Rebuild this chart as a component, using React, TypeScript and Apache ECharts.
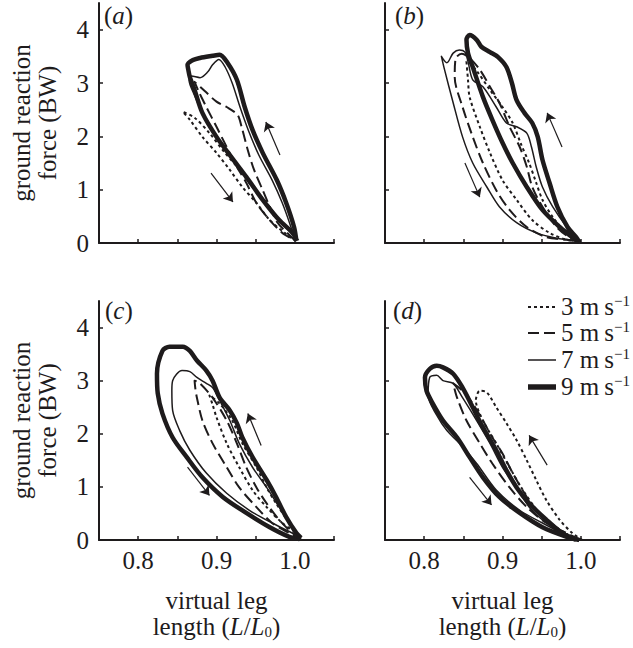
import React, { useEffect, useRef } from 'react';
import * as echarts from 'echarts';

type Pt = [number, number];

const panelLabels = ['a', 'b', 'c', 'd'];
const speeds = ['9', '7', '5', '3'];
const legendSpeeds = ['3', '5', '7', '9'];
const xTickValues = [0.8, 0.9, 1.0];
const xTickLabels = ['0.8', '0.9', '1.0'];
const xMinorTicks = [0.8, 0.85, 0.9, 0.95, 1.0, 1.05];
const yTickValues = [0, 1, 2, 3, 4];
const yTickLabels = ['0', '1', '2', '3', '4'];

// panel (a)
const loopA9: Pt[] = [[1.002,0.04],[0.999,0.30],[0.989,0.75],[0.977,1.18],[0.959,1.69],[0.946,2.12],[0.936,2.55],[0.926,3.06],[0.914,3.38],[0.904,3.53],[0.895,3.51],[0.879,3.47],[0.870,3.43],[0.863,3.34],[0.864,3.25],[0.866,3.11],[0.872,2.87],[0.882,2.44],[0.900,1.99],[0.919,1.61],[0.938,1.24],[0.959,0.81],[0.980,0.43],[0.997,0.19],[1.003,0.04]];
const loopA7: Pt[] = [[1.0,0.05],[0.995,0.30],[0.984,0.75],[0.971,1.18],[0.954,1.65],[0.941,2.10],[0.930,2.55],[0.920,3.00],[0.911,3.30],[0.903,3.44],[0.895,3.34],[0.889,3.21],[0.879,3.10],[0.868,3.13],[0.865,3.05],[0.871,2.80],[0.884,2.38],[0.903,1.95],[0.922,1.57],[0.941,1.19],[0.961,0.78],[0.982,0.40],[0.998,0.14],[1.001,0.05]];
const loopA5: Pt[] = [[1.0,0.05],[0.993,0.15],[0.978,0.38],[0.968,0.68],[0.959,0.99],[0.948,1.37],[0.940,1.74],[0.932,2.18],[0.927,2.40],[0.913,2.55],[0.900,2.65],[0.885,2.85],[0.872,3.02],[0.877,2.85],[0.887,2.55],[0.900,2.18],[0.913,1.80],[0.926,1.43],[0.938,1.13],[0.951,0.75],[0.968,0.43],[0.984,0.19],[1.0,0.05]];
const loopA3: Pt[] = [[1.0,0.05],[0.996,0.19],[0.980,0.43],[0.964,0.75],[0.946,1.05],[0.926,1.43],[0.908,1.74],[0.891,2.06],[0.872,2.35],[0.857,2.46],[0.866,2.31],[0.882,1.99],[0.900,1.69],[0.917,1.37],[0.933,1.05],[0.951,0.75],[0.968,0.43],[0.987,0.19],[1.0,0.05]];

// panel (b)
const loopB9: Pt[] = [[0.998,0.02],[0.994,0.11],[0.983,0.30],[0.970,0.68],[0.960,1.13],[0.951,1.56],[0.945,1.99],[0.938,2.25],[0.928,2.44],[0.918,2.68],[0.912,3.00],[0.905,3.30],[0.894,3.49],[0.884,3.58],[0.873,3.68],[0.867,3.81],[0.858,3.90],[0.854,3.81],[0.856,3.56],[0.862,3.30],[0.875,2.74],[0.887,2.31],[0.900,1.88],[0.913,1.50],[0.931,1.05],[0.951,0.62],[0.973,0.30],[0.989,0.11],[0.998,0.02]];
const loopB7: Pt[] = [[1.0,0.02],[0.994,0.11],[0.982,0.30],[0.964,0.68],[0.951,1.05],[0.943,1.43],[0.937,1.80],[0.931,2.06],[0.918,2.18],[0.905,2.25],[0.892,2.55],[0.875,2.93],[0.862,3.06],[0.856,3.40],[0.852,3.58],[0.845,3.62],[0.837,3.56],[0.829,3.38],[0.822,3.50],[0.826,3.25],[0.837,2.63],[0.849,1.99],[0.862,1.50],[0.880,1.05],[0.896,0.68],[0.918,0.38],[0.943,0.19],[0.969,0.09],[0.985,0.06],[1.0,0.02]];
const loopB5: Pt[] = [[1.0,0.02],[0.985,0.11],[0.969,0.30],[0.951,0.68],[0.938,1.05],[0.931,1.43],[0.922,1.80],[0.909,2.18],[0.896,2.63],[0.884,2.93],[0.871,3.25],[0.858,3.47],[0.848,3.55],[0.840,3.45],[0.839,3.11],[0.849,2.55],[0.862,1.99],[0.875,1.50],[0.892,0.99],[0.909,0.62],[0.931,0.30],[0.956,0.11],[0.982,0.06],[1.0,0.02]];
const loopB3: Pt[] = [[0.998,0.04],[0.982,0.19],[0.964,0.49],[0.951,0.81],[0.943,1.13],[0.934,1.50],[0.924,1.84],[0.913,2.25],[0.900,2.55],[0.884,2.87],[0.868,3.21],[0.858,3.38],[0.854,3.40],[0.856,3.05],[0.858,2.74],[0.871,2.18],[0.884,1.69],[0.900,1.18],[0.918,0.81],[0.938,0.43],[0.960,0.19],[0.982,0.06],[0.998,0.04]];

// panel (c)
const loopC9: Pt[] = [[1.008,0.04],[1.002,0.13],[0.989,0.43],[0.976,0.81],[0.964,1.13],[0.946,1.56],[0.933,1.93],[0.926,2.20],[0.917,2.44],[0.904,2.68],[0.895,3.00],[0.887,3.19],[0.875,3.38],[0.866,3.56],[0.857,3.64],[0.840,3.64],[0.831,3.56],[0.824,3.13],[0.825,2.76],[0.831,2.38],[0.844,1.93],[0.862,1.56],[0.882,1.18],[0.908,0.81],[0.938,0.51],[0.968,0.24],[0.993,0.06],[1.006,0.02]];
const loopC7: Pt[] = [[1.008,0.04],[1.002,0.13],[0.993,0.32],[0.980,0.62],[0.964,0.99],[0.946,1.37],[0.929,1.82],[0.917,2.25],[0.904,2.63],[0.895,2.87],[0.887,2.95],[0.875,3.06],[0.866,3.17],[0.856,3.19],[0.844,3.00],[0.843,2.81],[0.844,2.44],[0.853,2.06],[0.866,1.69],[0.887,1.26],[0.913,0.88],[0.942,0.56],[0.971,0.32],[0.997,0.13],[1.006,0.06]];
const loopC5: Pt[] = [[1.008,0.02],[0.997,0.13],[0.980,0.38],[0.964,0.69],[0.951,0.99],[0.938,1.37],[0.926,1.82],[0.913,2.25],[0.895,2.68],[0.878,2.96],[0.872,3.00],[0.873,2.85],[0.875,2.68],[0.882,2.25],[0.895,1.82],[0.913,1.37],[0.929,0.99],[0.951,0.62],[0.971,0.32],[0.993,0.13],[1.008,0.02]];
const loopC3: Pt[] = [[1.006,0.06],[0.993,0.32],[0.976,0.69],[0.964,0.99],[0.951,1.37],[0.933,1.82],[0.920,2.25],[0.904,2.57],[0.891,2.72],[0.895,2.55],[0.900,2.31],[0.913,1.82],[0.929,1.37],[0.946,0.94],[0.964,0.62],[0.984,0.32],[1.002,0.13],[1.006,0.06]];

// panel (d)
const loopD9: Pt[] = [[0.994,0.0],[0.976,0.13],[0.956,0.38],[0.934,0.69],[0.918,0.99],[0.905,1.31],[0.892,1.69],[0.875,2.12],[0.862,2.50],[0.849,2.87],[0.837,3.13],[0.824,3.25],[0.816,3.28],[0.807,3.22],[0.801,3.06],[0.803,2.81],[0.811,2.57],[0.824,2.25],[0.842,1.93],[0.858,1.56],[0.875,1.18],[0.896,0.81],[0.922,0.51],[0.951,0.24],[0.982,0.06],[0.998,0.0]];
const loopD7: Pt[] = [[0.994,0.0],[0.973,0.19],[0.951,0.38],[0.934,0.62],[0.918,0.99],[0.900,1.37],[0.884,1.82],[0.867,2.25],[0.849,2.68],[0.837,2.95],[0.824,3.00],[0.816,3.10],[0.807,3.06],[0.805,2.72],[0.816,2.35],[0.829,2.06],[0.845,1.82],[0.867,1.44],[0.892,0.94],[0.922,0.56],[0.951,0.32],[0.985,0.06],[0.996,0.0]];
const loopD5: Pt[] = [[0.994,0.0],[0.973,0.19],[0.951,0.43],[0.931,0.81],[0.913,1.26],[0.900,1.63],[0.887,1.93],[0.875,2.25],[0.862,2.57],[0.849,2.81],[0.837,2.95],[0.842,2.68],[0.854,2.25],[0.871,1.82],[0.887,1.44],[0.909,0.99],[0.931,0.62],[0.956,0.32],[0.982,0.13],[1.0,0.0]];
const loopD3: Pt[] = [[1.002,0.0],[0.989,0.13],[0.973,0.38],[0.956,0.75],[0.943,1.13],[0.931,1.50],[0.918,1.88],[0.905,2.20],[0.892,2.50],[0.880,2.78],[0.871,2.81],[0.866,2.63],[0.875,2.25],[0.892,1.82],[0.909,1.37],[0.926,0.94],[0.947,0.51],[0.969,0.24],[0.989,0.06],[1.002,0.0]];

// arrows [start, end]
const arrowsA: Pt[][] = [[[0.981,1.65],[0.963,2.27]], [[0.893,1.31],[0.921,0.77]]];
const arrowsB: Pt[][] = [[[0.976,1.80],[0.957,2.44]], [[0.852,1.50],[0.871,0.86]]];
const arrowsC: Pt[][] = [[[0.957,1.78],[0.940,2.38]], [[0.863,1.37],[0.891,0.84]]];
const arrowsD: Pt[][] = [[[0.957,1.41],[0.934,1.97]], [[0.858,1.18],[0.886,0.66]]];

const loops: Record<string, Pt[]>[] = [
  { '9': loopA9, '7': loopA7, '5': loopA5, '3': loopA3 },
  { '9': loopB9, '7': loopB7, '5': loopB5, '3': loopB3 },
  { '9': loopC9, '7': loopC7, '5': loopC5, '3': loopC3 },
  { '9': loopD9, '7': loopD7, '5': loopD5, '3': loopD3 },
];
const arrows = [arrowsA, arrowsB, arrowsC, arrowsD];

const INK = '#1e1b1c';
const FONT = "'Liberation Serif', 'Times New Roman', Times, serif";

const styleBySpeed: Record<string, { width: number; type: any; dash: number[] | null }> = {
  '3': { width: 2, type: [3, 3], dash: [3, 3] },
  '5': { width: 2, type: [11, 5], dash: [11, 5] },
  '7': { width: 1.5, type: 'solid', dash: null },
  '9': { width: 4.5, type: 'solid', dash: null },
};

const grids = [
  { left: 99, top: 3, width: 235, height: 240 },
  { left: 385, top: 3, width: 235, height: 240 },
  { left: 99, top: 301, width: 235, height: 239 },
  { left: 385, top: 301, width: 235, height: 239 },
];

export default function App() {
  const ref = useRef<HTMLDivElement>(null);
  useEffect(() => {
    if (!ref.current) return;
    const chart = echarts.init(ref.current, null, { renderer: 'svg' });

    const xAxes = grids.map((_, i) => {
      const bottom = i >= 2;
      return {
        type: 'value',
        gridIndex: i,
        min: 0.75,
        max: 1.05,
        interval: 0.05,
        splitLine: { show: false },
        axisLine: { onZero: false, lineStyle: { color: INK, width: 2 } },
        axisTick: { show: true, inside: true, length: 4, customValues: xMinorTicks, lineStyle: { color: INK, width: 1.5 } },
        axisLabel: {
          show: bottom,
          customValues: xTickValues,
          formatter: (v: number) => {
            const idx = xTickValues.findIndex((t) => Math.abs(t - v) < 1e-6);
            return idx >= 0 ? xTickLabels[idx] : '';
          },
          fontFamily: FONT,
          fontSize: 25,
          color: INK,
          margin: 8,
        },
        name: bottom ? 'virtual leg\n{n|length (}{i|L}{n|/}{i|L}{sub|0}{n|)}' : '',
        nameLocation: 'middle',
        nameGap: 47,
        nameTextStyle: {
          fontFamily: FONT,
          fontSize: 25,
          color: INK,
          lineHeight: 26,
          rich: {
            n: { fontFamily: FONT, fontSize: 25, color: INK, lineHeight: 26 },
            i: { fontFamily: FONT, fontSize: 25, color: INK, fontStyle: 'italic', lineHeight: 26 },
            sub: { fontFamily: FONT, fontSize: 15, color: INK, lineHeight: 15, verticalAlign: 'bottom' },
          },
        },
      };
    });

    const yAxes = grids.map((_, i) => {
      const left = i % 2 === 0;
      return {
        type: 'value',
        gridIndex: i,
        min: 0,
        max: 4.5,
        interval: 1,
        splitLine: { show: false },
        axisLine: { onZero: false, lineStyle: { color: INK, width: 2 } },
        axisTick: { show: true, inside: true, length: 4, customValues: yTickValues, lineStyle: { color: INK, width: 1.5 } },
        axisLabel: {
          show: left,
          customValues: yTickValues,
          formatter: (v: number) => {
            const idx = yTickValues.findIndex((t) => Math.abs(t - v) < 1e-6);
            return idx >= 0 ? yTickLabels[idx] : '';
          },
          fontFamily: FONT,
          fontSize: 25,
          color: INK,
          margin: 10,
        },
        name: left ? 'ground reaction\nforce (BW)' : '',
        nameLocation: 'middle',
        nameRotate: 90,
        nameGap: 39,
        nameTextStyle: { fontFamily: FONT, fontSize: 25, color: INK, lineHeight: 26 },
      };
    });

    const series: any[] = [];
    loops.forEach((panel, p) => {
      speeds.forEach((s) => {
        const st = styleBySpeed[s];
        series.push({
          type: 'line',
          name: s + ' m/s',
          xAxisIndex: p,
          yAxisIndex: p,
          data: panel[s],
          showSymbol: false,
          symbol: 'none',
          smooth: 0.3,
          silent: true,
          lineStyle: { color: INK, width: st.width, type: st.type, cap: 'butt', join: 'round' },
        });
      });
      series.push({
        type: 'lines',
        coordinateSystem: 'cartesian2d',
        xAxisIndex: p,
        yAxisIndex: p,
        silent: true,
        symbol: ['none', 'arrow'],
        symbolSize: 9,
        lineStyle: { color: INK, width: 1.2, opacity: 1, curveness: 0 },
        data: arrows[p].map((c) => ({ coords: c })),
      });
    });

    const labelPos = [
      { x: 104, y: 3 },
      { x: 395, y: 3 },
      { x: 105, y: 298 },
      { x: 393, y: 298 },
    ];
    const graphics: any[] = panelLabels.map((l, i) => ({
      type: 'text',
      x: labelPos[i].x,
      y: labelPos[i].y,
      silent: true,
      style: {
        text: '{n|(}{i|' + l + '}{n|)}',
        rich: {
          n: { fontFamily: FONT, fontSize: 25, fill: INK },
          i: { fontFamily: FONT, fontSize: 25, fill: INK, fontStyle: 'italic' },
        },
        verticalAlign: 'top',
      },
    }));

    const legendY = [307, 333, 360, 387];
    legendSpeeds.forEach((s, k) => {
      const st = styleBySpeed[s];
      graphics.push({
        type: 'line',
        silent: true,
        shape: { x1: 528, y1: legendY[k], x2: 556, y2: legendY[k] },
        style: { stroke: INK, lineWidth: st.width + (s === '9' ? 1 : 0), lineDash: st.dash || undefined },
      });
      graphics.push({
        type: 'text',
        silent: true,
        x: 561,
        y: legendY[k] - 14,
        style: {
          text: '{n|' + s + ' m\u2009s}{s|\u22121}',
          rich: {
            n: { fontFamily: FONT, fontSize: 25, fill: INK, lineHeight: 27 },
            s: { fontFamily: FONT, fontSize: 15, fill: INK, lineHeight: 15, verticalAlign: 'top' },
          },
          verticalAlign: 'top',
        },
      });
    });

    chart.setOption({
      animation: false,
      backgroundColor: '#ffffff',
      grid: grids,
      xAxis: xAxes,
      yAxis: yAxes,
      series,
      graphic: graphics,
    });
    return () => chart.dispose();
  }, []);
  return <div ref={ref} style={{ position: 'absolute', left: 0, top: 0, width: 633, height: 648 }} />;
}
